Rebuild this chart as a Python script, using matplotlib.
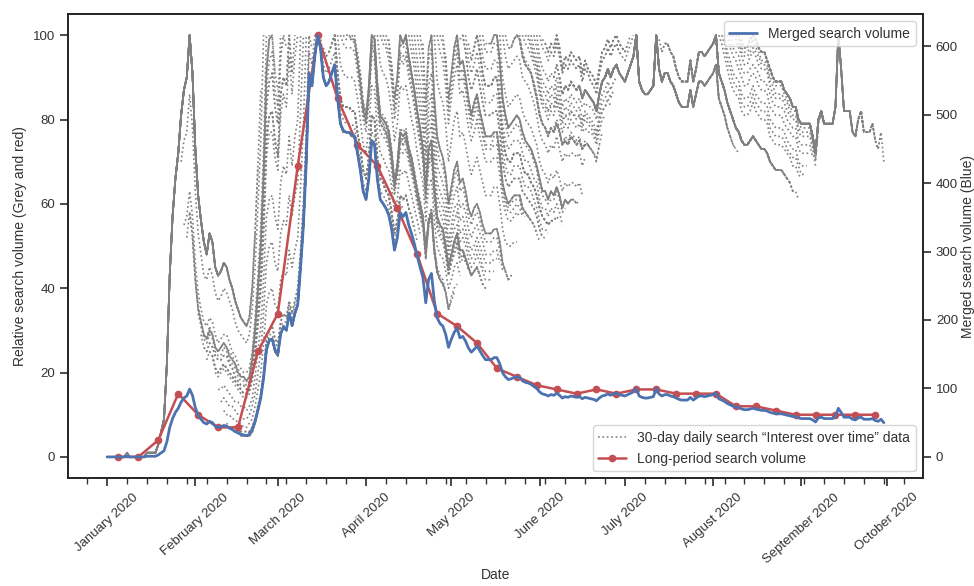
import numpy as np
import pandas as pd
import matplotlib
matplotlib.use('Agg')
import matplotlib.pyplot as plt
import matplotlib.dates as mdates
import seaborn as sns

# daily merged search volume, one list per month of 2020
merged_jan = [0, 0, 0, 0, 0, 0, 0, 1, 0, 0, 0, 0, 0, 0, 1, 1, 1, 1, 3, 6,
              9, 22, 43, 56, 65, 71, 80, 86, 89, 99, 90]
merged_feb = [72, 61, 55, 50, 48, 52, 50, 45, 43, 44, 46, 45, 42, 40, 37, 35, 33, 32, 31, 33,
              40, 52, 68, 86, 115, 157, 170, 172, 157]
merged_mar = [150, 180, 190, 185, 210, 192, 210, 222, 277, 339, 431, 561, 542, 585, 616, 597,
              554, 542, 548, 561, 573, 524, 487, 477, 474, 474, 471, 468, 444, 419, 388]
merged_apr = [376, 407, 462, 456, 405, 376, 370, 363, 354, 333, 302, 320, 357, 351, 357, 339,
              326, 311, 293, 277, 262, 225, 259, 268, 228, 203, 195, 191, 179, 160]
merged_may = [172, 182, 188, 174, 176, 169, 159, 153, 157, 162, 155, 148, 142, 142, 142, 145,
              145, 136, 123, 117, 113, 114, 116, 117, 116, 111, 109, 108, 106, 103, 100]
merged_jun = [95, 92, 91, 89, 91, 90, 93, 90, 86, 88, 87, 89, 88, 87, 88, 85, 87, 86, 85, 84,
              82, 86, 89, 90, 92, 90, 92, 93, 91, 90]
merged_jul = [89, 91, 93, 95, 100, 89, 87, 86, 86, 87, 88, 100, 92, 89, 91, 91, 89, 88, 86, 84,
              83, 83, 83, 87, 83, 86, 89, 89, 88, 89, 90]
merged_aug = [91, 93, 85, 83, 81, 78, 76, 74, 73, 72, 70, 69, 69, 70, 71, 70, 69, 68, 68, 67,
              65, 64, 63, 63, 63, 62, 61, 60, 59, 59, 57]
merged_sep = [56, 56, 56, 56, 54, 51, 57, 58, 56, 56, 56, 56, 59, 71, 65, 58, 58, 58, 55, 54,
              57, 58, 55, 55, 55, 56, 53, 52, 55, 50]

# weekly long-period volume, Sundays from 5 Jan 2020
long_period = [0, 0, 4, 15, 10, 7, 7, 25, 34, 69, 100, 85, 74, 69, 59, 48, 34, 31, 27, 21,
               19, 17, 16, 15, 16, 15, 16, 16, 15, 15, 15, 12, 12, 11, 10, 10, 10, 10, 10]

sns.set_theme(style='ticks')
plt.rcParams['font.family'] = ['Liberation Sans', 'DejaVu Sans']
plt.rcParams['font.size'] = 9.5
plt.rcParams['xtick.labelsize'] = 9.5
plt.rcParams['ytick.labelsize'] = 9.5
plt.rcParams['axes.labelsize'] = 10
plt.rcParams['legend.fontsize'] = 10
plt.rcParams['text.color'] = '#333333'
plt.rcParams['axes.labelcolor'] = '#333333'
plt.rcParams['xtick.color'] = '#333333'
plt.rcParams['ytick.color'] = '#333333'

merged = np.array(merged_jan + merged_feb + merged_mar + merged_apr + merged_may
                  + merged_jun + merged_jul + merged_aug + merged_sep, dtype=float)
days = pd.date_range('2020-01-01', periods=len(merged), freq='D')
weeks = pd.date_range('2020-01-05', periods=len(long_period), freq='7D')

fig, ax1 = plt.subplots(figsize=(9.74, 5.86), dpi=100)
fig.subplots_adjust(left=0.0701, right=0.9473, top=0.976, bottom=0.1843)

# every 30-day window, scaled so the window's own peak is 100
win = 30
grey_handle = None
for start in range(len(merged) - win + 1):
    seg = merged[start:start + win]
    rel = np.round(seg / seg.max() * 100)
    ln, = ax1.plot(days[start:start + win], rel, ':', color='grey', lw=1.2)
    if grey_handle is None:
        grey_handle = ln

red_handle, = ax1.plot(weeks, long_period, '-o', color='#C44E52', lw=1.8, ms=4.5)
ax1.set_ylabel('Relative search volume (Grey and red)')
ax1.set_xlabel('Date', labelpad=2)

ax2 = ax1.twinx()
ax2.plot(days, merged, color='#4C72B0', lw=2, label='Merged search volume')
ax2.set_ylabel('Merged search volume (Blue)', labelpad=2)

ax1.xaxis.set_major_locator(mdates.MonthLocator())
ax1.xaxis.set_major_formatter(mdates.DateFormatter('%B %Y'))
ax1.xaxis.set_minor_locator(mdates.WeekdayLocator(byweekday=mdates.WE))
for lab in ax1.get_xticklabels():
    lab.set_rotation(42)
    lab.set_ha('center')

leg = ax2.legend(loc='upper right')
ax2.add_artist(leg)
ax2.legend([grey_handle, red_handle],
           ['30-day daily search \u201cInterest over time\u201d data', 'Long-period search volume'],
           loc='lower right')

plt.savefig('out.png', dpi=100)
